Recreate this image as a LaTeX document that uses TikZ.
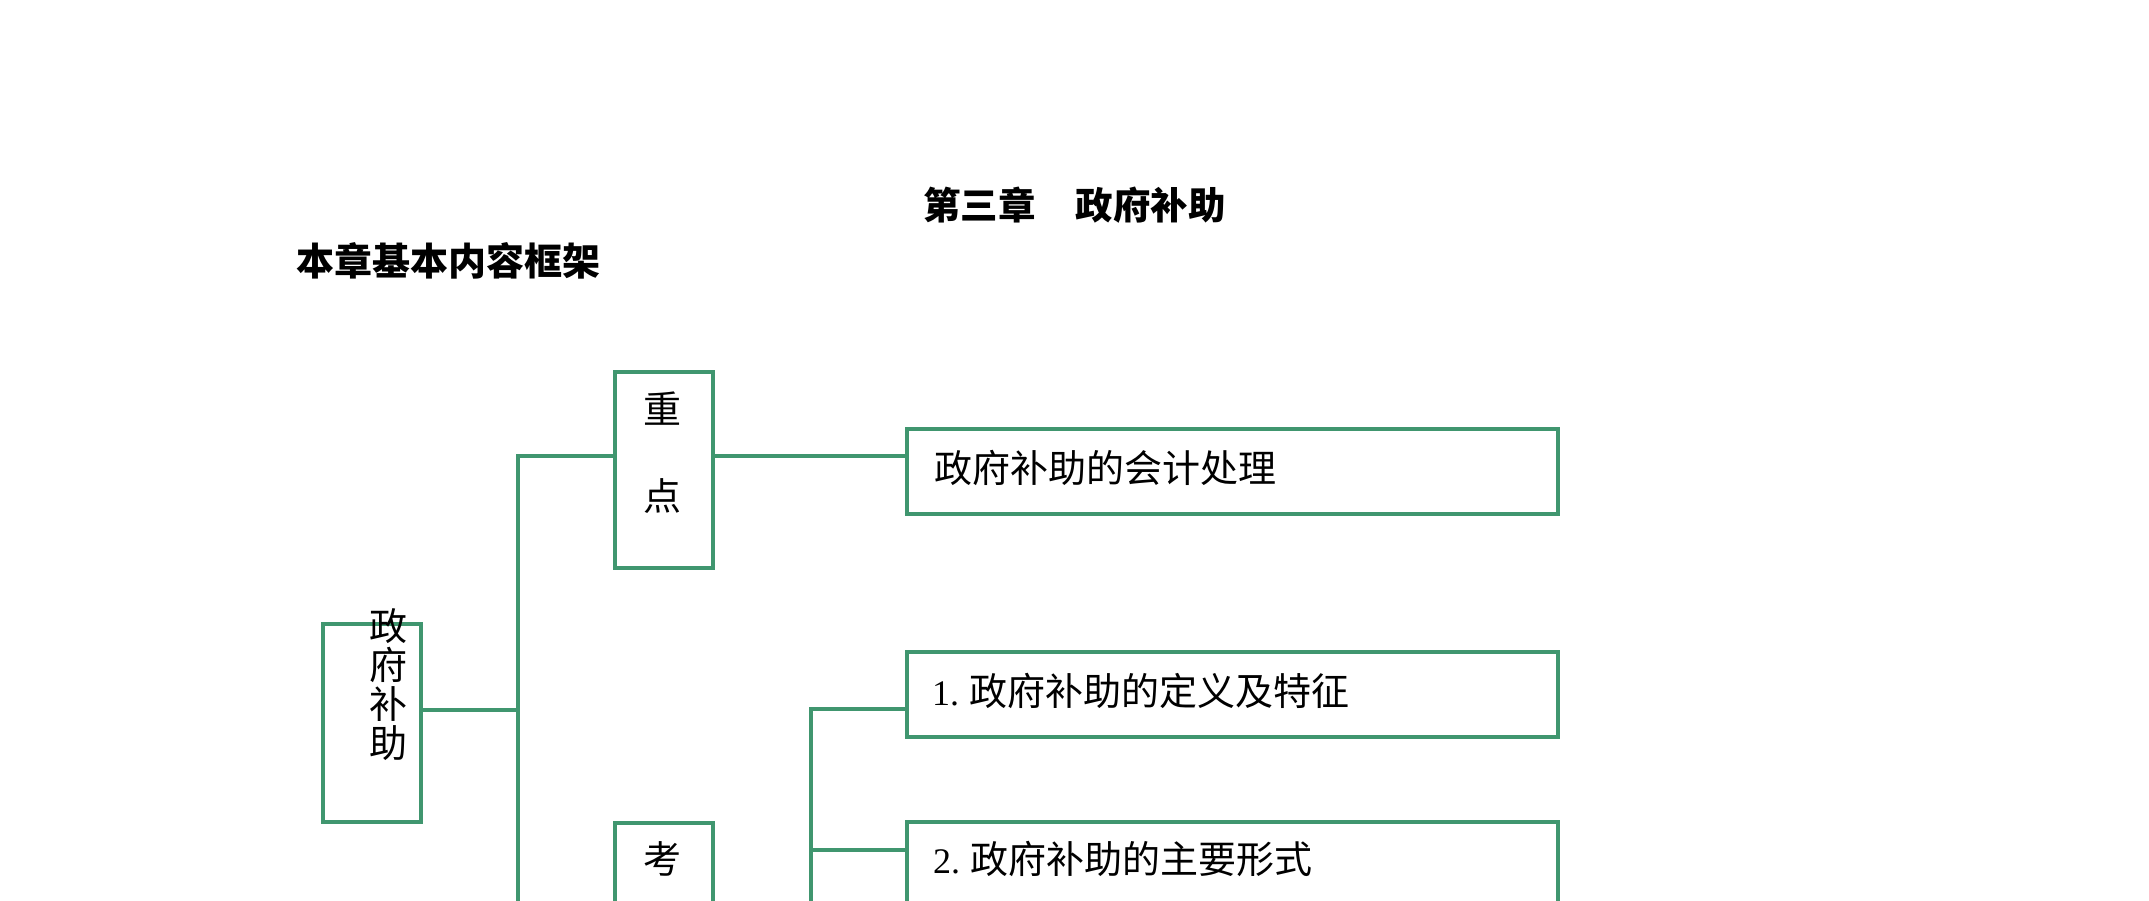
\documentclass[tikz,border=0pt]{standalone}
\usepackage{fontspec}
\setmainfont{Liberation Serif}
\newfontfamily\cjk{Noto Sans CJK SC}
\definecolor{lg}{RGB}{64,150,111}
\begin{document}
\begin{tikzpicture}[x=1pt,y=-1pt,
  box/.style={draw=lg, line width=3.3pt, inner sep=0pt, rectangle},
  conn/.style={draw=lg, line width=3.3pt},
  txt/.style={inner sep=0pt, font=\cjk\fontsize{38}{39}\selectfont, text=black}]
\useasboundingbox (0,0) rectangle (2149,900);
\clip (0,0) rectangle (2149,900);
\fill[white] (0,0) rectangle (2149,900);

% boxes
\node[box, minimum width=98pt, minimum height=198pt] (zf) at (372,723) {};
\node[box, minimum width=98pt, minimum height=196pt] (zd) at (664,470) {};
\node[box, minimum width=98pt, minimum height=196pt] (ks) at (664,921) {};
\node[box, minimum width=651pt, minimum height=85pt] (kj) at (1232.5,471.5) {};
\node[box, minimum width=651pt, minimum height=85pt] (b1) at (1232.5,694.5) {};
\node[box, minimum width=651pt, minimum height=85pt] (b2) at (1232.5,864.5) {};

% texts
\node[txt, anchor=west, font=\cjk\bfseries\fontsize{37.5}{37.5}\selectfont] (title) at (923,205) {第三章\hspace{40pt}政府补助};
\node[txt, anchor=west, font=\cjk\bfseries\fontsize{38}{38}\selectfont] (head) at (296,261) {本章基本内容框架};
\node[txt, align=center, font=\cjk\fontsize{38}{39}\selectfont] (zft) at (388,685) {政\\府\\补\\助};
\node[txt, align=center, font=\cjk\fontsize{38}{87}\selectfont] (zdt) at (662,453) {重\\点};
\node[txt] (kst) at (662,859) {考};
\node[txt, anchor=west] (kjt) at (934,467.5) {政府补助的会计处理};
\node[txt, anchor=west] (b1t) at (932,691) {{\rmfamily\fontsize{36}{36}\selectfont 1.}\hspace{10pt}政府补助的定义及特征};
\node[txt, anchor=west] (b2t) at (933,859) {{\rmfamily\fontsize{36}{36}\selectfont 2.}\hspace{10pt}政府补助的主要形式};

% junctions
\coordinate (j1) at (518,456);
\coordinate (j0) at (518,710);
\coordinate (jb) at (518,910);
\coordinate (k1) at (811,709);
\coordinate (k2) at (811,850);
\coordinate (kb) at (811,910);

% connectors
\draw[conn] (zd.west |- j1) -- (j1) -- (jb);
\draw[conn] (zf.east |- j0) -- (j0);
\draw[conn] (zd.east |- j1) -- (kj.west |- j1);
\draw[conn] (b1.west |- k1) -- (k1) -- (kb);
\draw[conn] (k2) -- (b2.west |- k2);
\end{tikzpicture}
\end{document}
